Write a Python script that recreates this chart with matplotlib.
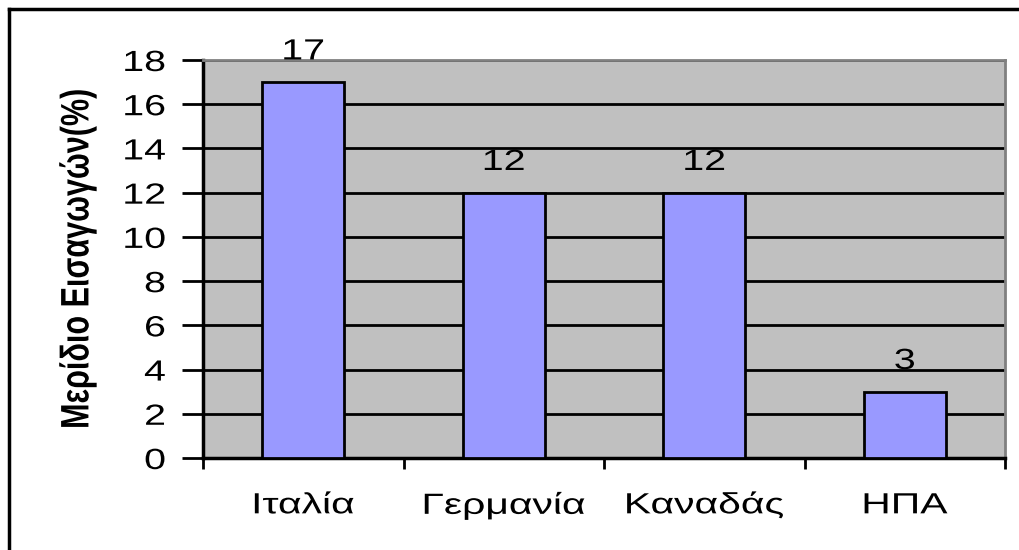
import matplotlib
matplotlib.use("Agg")
import matplotlib.pyplot as plt
from matplotlib.lines import Line2D
from matplotlib.patheffects import AbstractPathEffect
from matplotlib.transforms import Affine2D

plt.rcParams['font.family'] = ['Liberation Sans', 'DejaVu Sans']

categories = ['Ιταλία', 'Γερμανία', 'Καναδάς', 'ΗΠΑ']
values = [17, 12, 12, 3]
yticks = [0, 2, 4, 6, 8, 10, 12, 14, 16, 18]
ylabel = 'Μερίδιο Εισαγωγών(%)'


class Stretch(AbstractPathEffect):
    """Scale glyph outlines in the text's own frame (keeps the text as text)."""

    def __init__(self, sx=1.0, sy=1.0, anchor='center'):
        super().__init__()
        self.sx, self.sy, self.anchor = sx, sy, anchor

    def draw_path(self, renderer, gc, tpath, affine, rgbFace=None):
        ext = tpath.get_extents()
        if self.anchor == 'right':
            cx = ext.x1
        elif self.anchor == 'left':
            cx = ext.x0
        else:
            cx = (ext.x0 + ext.x1) / 2
        cy = (ext.y0 + ext.y1) / 2
        t = Affine2D().translate(-cx, -cy).scale(self.sx, self.sy).translate(cx, cy)
        renderer.draw_path(gc, tpath, t + affine, rgbFace)


SX = 1.35
FS = 21

W, H = 1019, 550
fig = plt.figure(figsize=(W / 100, H / 100), dpi=100)
ax = fig.add_axes([203 / W, 1 - 458 / H, (1005 - 203) / W, (458 - 60) / H])
ax.set_facecolor('#C0C0C0')

x = list(range(len(categories)))
bars = ax.bar(x, values, width=0.41, color='#9999FF', edgecolor='black',
              linewidth=2, zorder=3)
ax.set_xlim(-0.5, len(categories) - 0.5)
ax.set_ylim(0, 18)
ax.set_yticks(yticks)
ax.set_yticklabels([str(t) for t in yticks], fontsize=FS)
for t in ax.get_yticklabels():
    t.set_path_effects([Stretch(sx=SX, anchor='right')])
ax.yaxis.grid(True, color='black', linewidth=2, zorder=1)
ax.set_axisbelow(True)

# category labels centered, ticks at category boundaries
ax.set_xticks([i - 0.5 for i in range(len(categories) + 1)])
ax.set_xticklabels([])
ax.set_xticks(x, minor=True)
ax.set_xticklabels(categories, minor=True, fontsize=FS)
for t in ax.get_xticklabels(minor=True):
    t.set_path_effects([Stretch(sx=1.4, anchor='center')])
ax.tick_params(axis='x', which='minor', length=0, pad=24)
ax.tick_params(axis='x', which='major', length=8, width=2, direction='out')
ax.tick_params(axis='y', length=15, width=2, direction='out', pad=12)

for s in ['left', 'bottom']:
    ax.spines[s].set_color('black')
    ax.spines[s].set_linewidth(2.5)
for s in ['top', 'right']:
    ax.spines[s].set_color('#808080')
    ax.spines[s].set_linewidth(2)

labels = ax.bar_label(bars, labels=[str(v) for v in values], padding=12, fontsize=FS)
for t in labels:
    t.set_clip_on(False)
    t.set_zorder(5)
    t.set_path_effects([Stretch(sx=SX, anchor='center')])

ax.set_ylabel(ylabel, fontsize=22, fontweight='bold')
ax.yaxis.label.set_path_effects([Stretch(sy=1.3)])
ax.yaxis.set_label_coords((93 - 203) / 802, 0.5)

# outer frame: top and left lines
fig.add_artist(Line2D([8.5 / W, 8.5 / W], [0, 1 - 8.5 / H], color='black', linewidth=2.5,
                      transform=fig.transFigure))
fig.add_artist(Line2D([8.5 / W, 1], [1 - 8.5 / H, 1 - 8.5 / H], color='black', linewidth=2.5,
                      transform=fig.transFigure))

fig.savefig('out.png', dpi=100)
